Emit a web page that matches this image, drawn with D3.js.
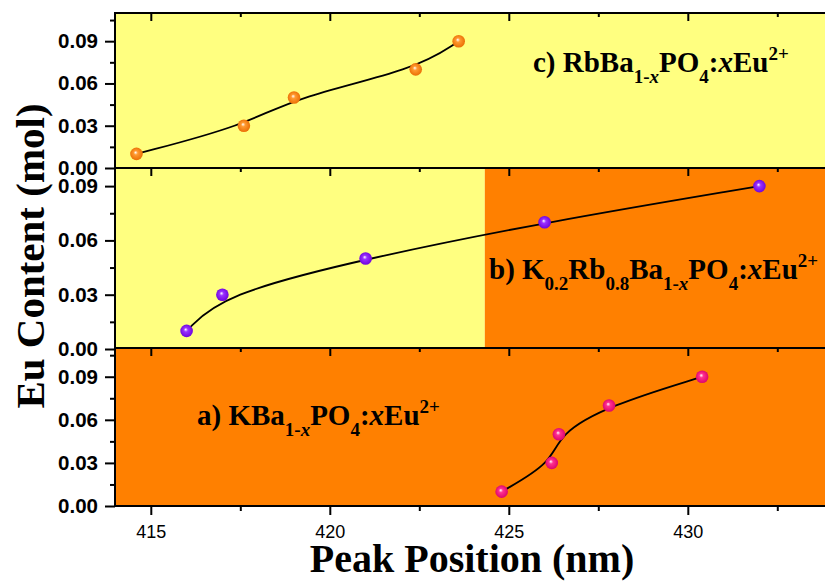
<!DOCTYPE html>
<html>
<head>
<meta charset="utf-8">
<script src="https://cdn.jsdelivr.net/npm/d3@7"></script>
<style>
  body { margin: 0; background: #fff; }
  svg { display: block; }
</style>
</head>
<body>
<svg></svg>
<script>
// data
const wlA = [424.8, 426.2, 426.4, 427.8, 430.4];
const euA = [0.01, 0.03, 0.05, 0.07, 0.09];
const wlB = [416.0, 417.0, 421.0, 426.0, 432.0];
const euB = [0.01, 0.03, 0.05, 0.07, 0.09];
const wlC = [414.6, 417.6, 419.0, 422.4, 423.6];
const euC = [0.01, 0.03, 0.05, 0.07, 0.09];
const xTicks = [415, 420, 425, 430];
const xMinor = [417.5, 422.5, 427.5, 432.5];
const yTicks = [0, 0.03, 0.06, 0.09];
const yMinor = [0.015, 0.045, 0.075, 0.105];
const bSplit = 424.33; // where the b) panel turns orange

const width = 825, height = 583;
const svg = d3.select("svg").attr("width", width).attr("height", height);

const yellow = "#FFFF80", orange = "#FF8000";

const x = d3.scaleLinear().domain([414, 434]).range([115, 831]);

const panels = [
  { top: 13, bottom: 168, ymax: 0.11, wl: wlC, eu: euC, col: "orng",
    bg: [[414, 434, yellow]],
    label: { x: 533, y: 72, parts: [["c) RbBa"], ["1-", "sub"], ["x", "sub", "it"], ["PO"], ["4", "sub"], [":"], ["x", "", "it"], ["Eu"], ["2+", "sup"]] } },
  { top: 168, bottom: 349, ymax: 0.10, wl: wlB, eu: euB, col: "purp",
    bg: [[414, bSplit, yellow], [bSplit, 434, orange]],
    label: { x: 489, y: 279, parts: [["b) K"], ["0.2", "sub"], ["Rb"], ["0.8", "sub"], ["Ba"], ["1-", "sub"], ["x", "sub", "it"], ["PO"], ["4", "sub"], [":"], ["x", "", "it"], ["Eu"], ["2+", "sup"]] } },
  { top: 348, bottom: 506, ymax: 0.11, wl: wlA, eu: euA, col: "pink",
    bg: [[414, 434, orange]],
    label: { x: 197, y: 425, parts: [["a) KBa"], ["1-", "sub"], ["x", "sub", "it"], ["PO"], ["4", "sub"], [":"], ["x", "", "it"], ["Eu"], ["2+", "sup"]] } }
];

// ball markers
const defs = svg.append("defs");
const balls = { orng: ["#FF9a30", "#E86A00"], purp: ["#9a30FF", "#6A00D8"], pink: ["#FF3090", "#D80068"] };
Object.keys(balls).forEach(k => {
  const g = defs.append("radialGradient").attr("id", k)
    .attr("cx", "50%").attr("cy", "50%").attr("r", "55%")
    .attr("fx", "42%").attr("fy", "38%");
  g.append("stop").attr("offset", "0%").attr("stop-color", "#fff");
  g.append("stop").attr("offset", "30%").attr("stop-color", balls[k][0]);
  g.append("stop").attr("offset", "100%").attr("stop-color", balls[k][1]);
});

const serif = "'Liberation Serif', 'Times New Roman', serif";
const sans = "'Liberation Sans', Arial, sans-serif";

panels.forEach((p, i) => {
  const y = d3.scaleLinear().domain([0, p.ymax]).range([p.bottom, p.top]);

  p.bg.forEach(b => {
    svg.append("rect")
      .attr("x", x(b[0])).attr("y", p.top)
      .attr("width", x(b[1]) - x(b[0])).attr("height", p.bottom - p.top)
      .attr("fill", b[2]);
  });

  // label with sub/superscripts
  const t = svg.append("text")
    .attr("x", p.label.x).attr("y", p.label.y)
    .attr("font-family", serif).attr("font-weight", "bold")
    .attr("font-size", 29).attr("fill", "#000");
  let shift = 0;
  p.label.parts.forEach(s => {
    const want = s[1] === "sub" ? 11 : s[1] === "sup" ? -12 : 0;
    t.append("tspan")
      .attr("dy", want - shift)
      .attr("font-size", s[1] ? 19 : 29)
      .attr("font-style", s[2] ? "italic" : "normal")
      .text(s[0]);
    shift = want;
  });

  // curve + markers
  const pts = p.wl.map((w, j) => [w, p.eu[j]]);
  const line = d3.line().x(d => x(d[0])).y(d => y(d[1])).curve(d3.curveBasis);
  svg.append("path").attr("d", line(pts))
    .attr("fill", "none").attr("stroke", "#000").attr("stroke-width", 1.8);
  svg.append("g").selectAll("circle").data(pts).join("circle")
    .attr("cx", d => x(d[0])).attr("cy", d => y(d[1])).attr("r", 6.3)
    .attr("fill", `url(#${p.col})`);

  // y axis, outward ticks
  const ya = svg.append("g").attr("transform", `translate(115,0)`)
    .call(d3.axisLeft(y).tickValues(yTicks).tickSize(10).tickPadding(7).tickFormat(d3.format(".2f")));
  ya.selectAll("text")
    .attr("font-family", sans).attr("font-weight", "bold").attr("font-size", 20)
    .attr("textLength", 40).attr("lengthAdjust", "spacingAndGlyphs").attr("fill", "#000");
  svg.append("g").attr("transform", `translate(115,0)`)
    .call(d3.axisLeft(y).tickValues(yMinor.filter(v => v <= p.ymax)).tickSize(5).tickFormat(""));

  // inward ticks on the top edge
  svg.append("g").attr("transform", `translate(0,${p.top})`)
    .call(d3.axisBottom(x).tickValues(xTicks).tickSize(8).tickFormat(""));
  svg.append("g").attr("transform", `translate(0,${p.top})`)
    .call(d3.axisBottom(x).tickValues(xMinor).tickSize(4).tickFormat(""));

  // frame
  svg.append("rect")
    .attr("x", x(414)).attr("y", p.top)
    .attr("width", x(434) - x(414)).attr("height", p.bottom - p.top)
    .attr("fill", "none").attr("stroke", "#000").attr("stroke-width", 2);
});

// bottom x axis, outward
const xa = svg.append("g").attr("transform", `translate(0,506)`)
  .call(d3.axisBottom(x).tickValues(xTicks).tickSize(9).tickPadding(10).tickFormat(d3.format("d")));
xa.selectAll("text").attr("font-family", sans).attr("font-size", 18).attr("fill", "#000");
svg.append("g").attr("transform", `translate(0,506)`)
  .call(d3.axisBottom(x).tickValues(xMinor).tickSize(5).tickFormat(""));

svg.selectAll(".domain").remove();
svg.selectAll(".tick line").attr("stroke", "#000").attr("stroke-width", 2);

// axis titles
svg.append("text")
  .attr("x", 472).attr("y", 572)
  .attr("text-anchor", "middle")
  .attr("font-family", serif).attr("font-weight", "bold").attr("font-size", 40)
  .text("Peak Position (nm)");

svg.append("text")
  .attr("transform", "translate(44,256) rotate(-90)")
  .attr("text-anchor", "middle")
  .attr("font-family", serif).attr("font-weight", "bold").attr("font-size", 41)
  .text("Eu Content (mol)");
</script>
</body>
</html>
